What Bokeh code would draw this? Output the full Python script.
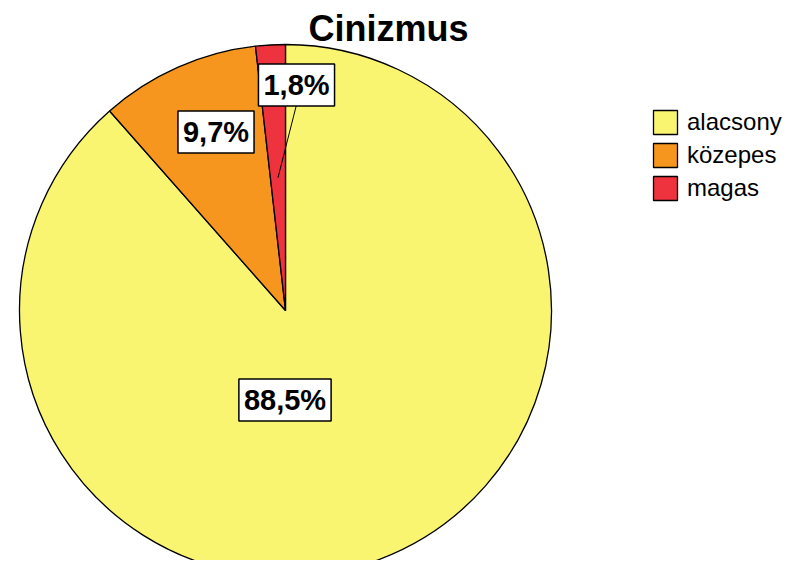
import numpy as np
from bokeh.plotting import figure
from bokeh.models import Range1d, Label, Legend, LegendItem, ColumnDataSource
from bokeh.embed import file_html
from bokeh.resources import INLINE

# ---- data ----
title_text = "Cinizmus"
categories = ["alacsony", "közepes", "magas"]
percents = [88.5, 9.7, 1.8]

# ---- styles / layout ----
colors = ["#F9F571", "#F7961E", "#EE323E"]
label_x = [284.5, 215.5, 296.0]   # page px (label box centres)
label_y = [399.5, 131.5, 84.5]
leader = [False, False, True]
FONT = "Liberation Sans"

W, H = 782, 560
CX, CY, R = 285.0, 310.0, 266.0   # page px

p = figure(width=W, height=H, output_backend="svg", toolbar_location=None,
           x_range=Range1d(0, W), y_range=Range1d(-H, 0),
           x_axis_type=None, y_axis_type=None, min_border=0)
p.grid.visible = False
p.outline_line_color = None
p.background_fill_color = "white"
p.border_fill_color = "white"

frac = np.array(percents) / np.sum(percents)
cum = np.concatenate([[0.0], np.cumsum(frac)])
start = np.pi / 2 - cum[:-1] * 2 * np.pi
end = np.pi / 2 - cum[1:] * 2 * np.pi

src = ColumnDataSource(dict(cat=categories, pct=percents, start=start, end=end, color=colors))
r = p.wedge(x=CX, y=-CY, radius=R, start_angle="start", end_angle="end", direction="clock",
            fill_color="color", line_color="black", line_width=1.3, source=src)

# leader lines
for i, has in enumerate(leader):
    if has:
        mid = (start[i] + end[i]) / 2
        ax = CX + 0.5 * R * np.cos(mid)
        ay = -CY + 0.5 * R * np.sin(mid)
        p.line(x=[label_x[i] + 5, ax], y=[-label_y[i], ay], line_color="black", line_width=1)

for i, v in enumerate(percents):
    txt = f"{v:.1f}%".replace(".", ",")
    p.add_layout(Label(x=label_x[i], y=-label_y[i], text=txt, text_align="center",
                       text_baseline="middle", text_font=FONT, text_font_style="bold",
                       text_font_size="29px", text_color="black",
                       background_fill_color="white", border_line_color="black",
                       border_line_width=1.5, padding=5))

p.add_layout(Label(x=388, y=-28, text=title_text, text_align="center",
                   text_baseline="middle", text_font=FONT, text_font_style="bold",
                   text_font_size="36px", text_color="black"))

items = [LegendItem(label=c, renderers=[r], index=i) for i, c in enumerate(categories)]
legend = Legend(items=items, location=(650, 560 - 203), orientation="vertical",
                glyph_width=30, glyph_height=30, label_height=30,
                label_text_font=FONT, label_text_font_size="24px", label_text_color="black",
                label_standoff=7, spacing=3, padding=0, margin=0, border_line_color=None,
                background_fill_alpha=0)
p.add_layout(legend)

open("out.html", "w").write(file_html(p, INLINE))
